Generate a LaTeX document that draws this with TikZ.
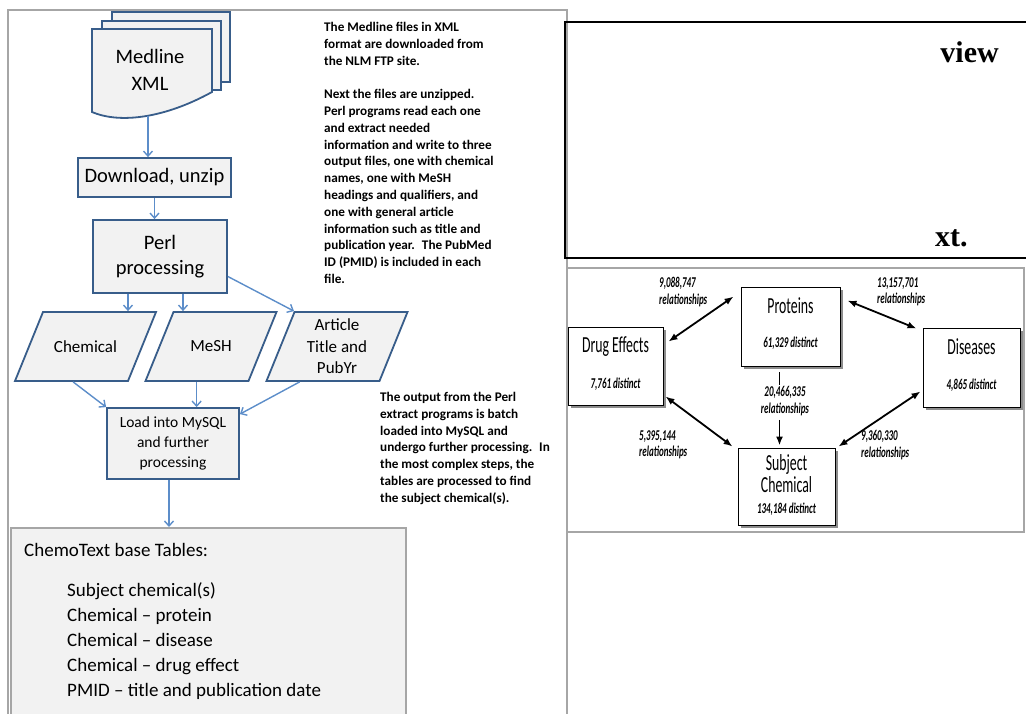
\documentclass[tikz,border=0pt]{standalone}
\usepackage{fontspec}
\setmainfont{Carlito}
\newfontfamily\narrowfont[FakeStretch=0.6]{Carlito}
\newfontfamily\timesfont{Liberation Serif}
\usetikzlibrary{positioning,shadows,arrows.meta}
\definecolor{boxblue}{RGB}{56,93,138}
\definecolor{boxfill}{RGB}{242,242,242}
\definecolor{flowblue}{RGB}{92,141,201}
\definecolor{framegray}{RGB}{166,166,166}

\begin{document}
\begin{tikzpicture}[x=1pt,y=-1pt,
  stepbox/.style={draw=boxblue,fill=boxfill,line width=1.8pt,align=center,inner sep=1pt},
  datashape/.style={draw=boxblue,fill=boxfill,line width=1.8pt,minimum height=69pt,
    xslant=0.406,transform shape},
  datatext/.style={align=center,inner sep=0pt,font=\fontsize{17}{21.5}\selectfont},
  flow/.style={-{Straight Barb[length=5pt,width=9pt]},draw=flowblue,line width=1.4pt},
  note/.style={align=left,inner sep=0pt,anchor=north west,font=\bfseries\fontsize{13.2}{16.8}\selectfont},
  framed/.style={draw=framegray,line width=2.6pt},
  entity/.style={draw=black,fill=white,line width=0.9pt,
    drop shadow={shadow xshift=3pt,shadow yshift=-3pt,fill=black!45,opacity=1}},
  entname/.style={font=\narrowfont\fontsize{23}{22.5}\selectfont,align=center,inner sep=0pt},
  entcount/.style={font=\narrowfont\bfseries\itshape\fontsize{15}{17}\selectfont,inner sep=0pt},
  rel/.style={font=\narrowfont\bfseries\itshape\fontsize{15}{16.5}\selectfont,align=left,inner sep=0pt},
  link/.style={{Latex[length=9pt,width=7pt]}-{Latex[length=9pt,width=7pt]},line width=1.8pt},
]
\useasboundingbox (0,0) rectangle (1026,713);

% frames
\draw[framed] (8,716) -- (8,10) -- (567,10) -- (567,716);
\draw[framed] (567,268) -- (1024,268) -- (1024,532) -- (567,532);
\draw[line width=1.8pt] (565,22) rectangle (1032,258);
\node[font=\timesfont\bfseries\fontsize{30}{32}\selectfont,anchor=east,inner sep=0pt] (ovtop) at (999,52) {view};
\node[font=\timesfont\bfseries\fontsize{30}{32}\selectfont,anchor=west,inner sep=0pt] (ovbottom) at (935,238) {xt.};

% Medline stack
\draw[draw=boxblue,fill=boxfill,line width=1.8pt] (112,12) rectangle (230,82);
\draw[draw=boxblue,fill=boxfill,line width=1.8pt] (102,21) rectangle (221,90);
\draw[draw=boxblue,fill=boxfill,line width=1.8pt] (92,29) -- (212,29) -- (212,92)
  .. controls (165,118) and (120,124) .. (92,112) -- cycle;
\node[align=center,font=\fontsize{20.5}{27}\selectfont] (medline) at (150,70) {Medline\\XML};
\coordinate (docfoot) at (148,116);

% flow chart
\node[stepbox,minimum width=153pt,minimum height=39pt,font=\fontsize{20.5}{27}\selectfont] (download) at (154.5,177.5) {Download, unzip};
\node[stepbox,minimum width=134pt,minimum height=73pt,font=\fontsize{20.5}{25}\selectfont] (perl) at (160,256.5) {Perl\\processing};
\node[shift={(85.5,346.5)},datashape,minimum width=113pt] (chem) at (0,0) {};
\node[shift={(211,346.5)},datashape,minimum width=103pt] (mesh) at (0,0) {};
\node[shift={(337,346.5)},datashape,minimum width=113pt] (art) at (0,0) {};
\node[datatext] (chemtext) at (chem.center) {Chemical};
\node[datatext] (meshtext) at (mesh.center) {MeSH};
\node[datatext] (arttext) at (art.center) {Article\\Title and\\PubYr};
\node[stepbox,minimum width=132pt,minimum height=71pt,font=\fontsize{15.5}{20}\selectfont] (load) at (173,443.5) {Load into MySQL\\and further\\processing};
\node[draw=framegray,fill=boxfill,line width=1.8pt,minimum width=395pt,minimum height=200pt,anchor=north west] (tables) at (10,527) {};
\node[align=left,anchor=north west,inner sep=0pt,font=\fontsize{19}{25}\selectfont] (tablelist) at ([shift={(14pt,-16pt)}]tables.north west)
  {ChemoText base Tables:\\[15pt]
   \hspace*{43pt}Subject chemical(s)\\
   \hspace*{43pt}Chemical -- protein\\
   \hspace*{43pt}Chemical -- disease\\
   \hspace*{43pt}Chemical -- drug effect\\
   \hspace*{43pt}PMID -- title and publication date};

\draw[flow] (docfoot) -- (docfoot |- download.north);
\draw[flow] (download.south) -- (download.south |- perl.north);
\draw[flow] ([xshift=-32pt]perl.south) -- ([xshift=-32pt]perl.south |- chem.north);
\draw[flow] ([xshift=23pt]perl.south) -- ([xshift=23pt]perl.south |- mesh.north);
\draw[flow] ([yshift=-20pt]perl.east) -- (art.north west);
\draw[flow] ([xshift=2pt]chem.south) -- (load.north west);
\draw[flow] (mesh.south) -- (mesh.south |- load.north);
\draw[flow] ([xshift=-23pt]art.south) -- ([yshift=-7pt]load.north east);
\draw[flow] ([xshift=-4pt]load.south) -- ([xshift=-4pt]load.south |- tables.north);

% notes
\node[note] (fetchnote) at (324,22) {The Medline files in XML\\format are downloaded from\\the NLM FTP site.\\[16.8pt]
  Next the files are unzipped.\\Perl programs read each one\\and extract needed\\information and write to three\\
  output files, one with chemical\\names, one with MeSH\\headings and qualifiers, and\\one with general article\\
  information such as title and\\publication year.~ The PubMed\\ID (PMID) is included in each\\file.};
\node[note] (loadnote) at (380,392) {The output from the Perl\\extract programs is batch\\loaded into MySQL and\\
  undergo further processing.~ In\\the most complex steps, the\\tables are processed to find\\the subject chemical(s).};

% entity diagram
\node[entity,minimum width=99pt,minimum height=79pt] (prot) at (790.5,326.5) {};
\node[entity,minimum width=95pt,minimum height=78pt] (drug) at (615.5,366) {};
\node[entity,minimum width=97pt,minimum height=79pt] (dis) at (971.5,367.5) {};
\node[entity,minimum width=97pt,minimum height=77pt] (subj) at (786.5,486.5) {};
\node[entname] (protname) at ([yshift=-19pt]prot.north) {Proteins};
\node[entcount] (protcount) at ([yshift=23pt]prot.south) {61,329 distinct};
\node[entname] (drugname) at ([yshift=-20pt]drug.north) {Drug Effects};
\node[entcount] (drugcount) at ([yshift=21pt]drug.south) {7,761 distinct};
\node[entname] (disname) at ([yshift=-19pt]dis.north) {Diseases};
\node[entcount] (discount) at ([yshift=22pt]dis.south) {4,865 distinct};
\node[entname] (subjname) at ([yshift=-26pt]subj.north) {Subject\\Chemical};
\node[entcount] (subjcount) at ([yshift=16pt]subj.south) {134,184 distinct};

\node[rel,anchor=west] (drugprot) at (659,292) {9,088,747\\relationships};
\node[rel,anchor=west] (protdis) at (877,292) {13,157,701\\relationships};
\node[rel,anchor=west] (drugsubj) at (639,445) {5,395,144\\relationships};
\node[rel,anchor=west] (dissubj) at (861,445) {9,360,330\\relationships};
\node[rel,align=center] (protsubj) at (785,401) {20,466,335\\relationships};

\draw[link] ([shift={(5pt,-15pt)}]drug.north east) -- ([shift={(-7pt,-10pt)}]prot.north west);
\draw[link] ([shift={(7pt,-14pt)}]prot.north east) -- ([shift={(-6pt,-1pt)}]dis.north west);
\draw[link] ([shift={(2pt,9pt)}]drug.south east) -- ([shift={(-5pt,1pt)}]subj.north west);
\draw[link] ([shift={(-2pt,16pt)}]dis.south west) -- ([shift={(3pt,1pt)}]subj.north east);
\draw[line width=1.8pt] ([xshift=-11pt,yshift=-6pt]prot.south) -- ([xshift=-11pt,yshift=-19pt]prot.south);
\draw[line width=1.8pt,-{Latex[length=9pt,width=7pt]},shorten <=4pt,shorten >=2pt]
  ([xshift=-11pt]prot.south |- protsubj.south) -- ([xshift=-11pt]prot.south |- subj.north);
\end{tikzpicture}
\end{document}
